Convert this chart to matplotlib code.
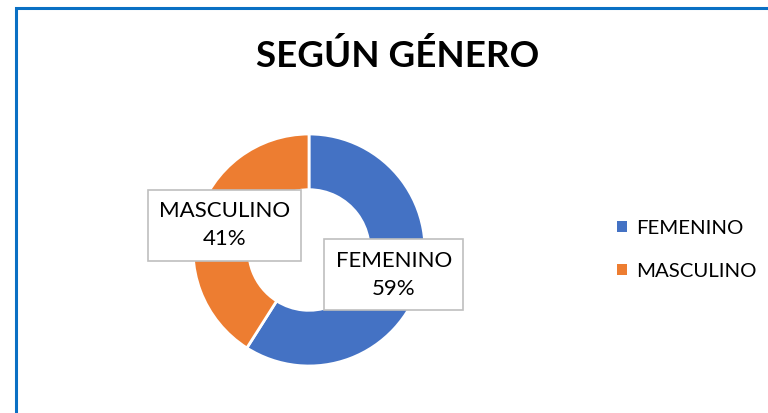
import matplotlib.pyplot as plt
from matplotlib.patches import Patch, Rectangle

categorias = ['FEMENINO', 'MASCULINO']
porcentajes = [59, 41]
colores = ['#4472C4', '#ED7D31']

plt.rcParams['font.family'] = ['Lato', 'DejaVu Sans']

fig = plt.figure(figsize=(7.68, 4.13), dpi=100)
W, H = 768, 413

# marco azul del area del grafico (cortado a la derecha y abajo)
fig.patches.append(Rectangle((15.5 / W, -0.1), 1.2, 1 - 7.5 / H + 0.1,
                             transform=fig.transFigure, fill=False,
                             edgecolor='#0A70C4', linewidth=2.2))

fig.text(398 / W, 1 - 56 / H, 'SEGÚN GÉNERO', ha='center', va='center',
         fontsize=26.5, fontweight='bold', color='black')

# donut: centro (309, 250) px, radio 116 px
cx, cy, r = 309, 250, 116
ax = fig.add_axes([(cx - r) / W, (H - cy - r) / H, 2 * r / W, 2 * r / H])
etiquetas = [f'{c}\n{p}%' for c, p in zip(categorias, porcentajes)]
wedges, textos = ax.pie(porcentajes, colors=colores, startangle=90, counterclock=False,
                        radius=1, labels=etiquetas, labeldistance=0.76,
                        wedgeprops=dict(width=0.48, edgecolor='white', linewidth=2))
for t in textos:
    t.set_ha('center')
    t.set_va('center')
    t.set_fontsize(16)
    t.set_linespacing(1.5)
    t.set_bbox(dict(boxstyle='square,pad=0.5', facecolor='white', edgecolor='#BFBFBF', linewidth=1.2))
ax.set_xlim(-1, 1)
ax.set_ylim(-1, 1)
ax.set_aspect('equal')
ax.axis('off')

handles = [Patch(facecolor=c, edgecolor='none') for c in colores]
fig.legend(handles, categorias, loc='center left', bbox_to_anchor=(599 / W, 1 - 250 / H),
           frameon=False, fontsize=14.7, handlelength=0.45, handleheight=0.45,
           handletextpad=0.45, labelspacing=1.25)

fig.savefig('out.png', dpi=100)
